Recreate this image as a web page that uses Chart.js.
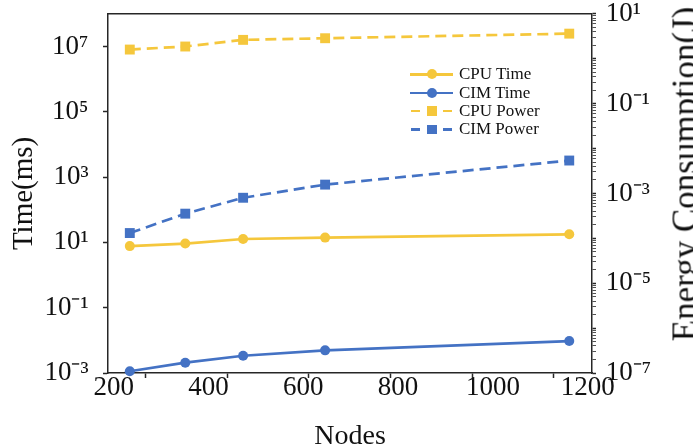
<!DOCTYPE html>
<html>
<head>
<meta charset="utf-8">
<script src="https://cdn.jsdelivr.net/npm/chart.js@4.4.0/dist/chart.umd.min.js"></script>
<style>
html,body{margin:0;padding:0;background:#fff;overflow:hidden}
#wrap{position:relative;width:693px;height:448px;overflow:hidden}
#legend{position:absolute;left:410px;top:65px;font:17px 'Liberation Serif',serif;color:#111}
.row{display:flex;align-items:center;height:18.4px;white-space:nowrap}
.key{position:relative;width:43px;height:18px;margin-right:6px}
.key div{position:absolute}
#etitle{position:absolute;left:685px;top:174px;font:35px 'Liberation Serif',serif;line-height:35px;
  white-space:nowrap;color:#111;transform:translate(-50%,-50%) rotate(-90deg)}
</style>
</head>
<body>
<div id="wrap">
  <canvas id="chart" width="693" height="448"></canvas>
  <div id="legend"></div>
  <div id="etitle">Energy Consumption(J)</div>
</div>
<script>
// Data
const nodes    = [234, 351, 473, 646, 1161];
const cpuTime  = [7.7, 9.2, 12.7, 14.0, 17.7];
const cimTime  = [0.00113, 0.00207, 0.00338, 0.00494, 0.0095];
const cpuPower = [1.6, 1.87, 2.63, 2.86, 3.62];
const cimPower = [0.000131, 0.000354, 0.0008, 0.00157, 0.0054];

// Ticks
const xLabelTicks = [200, 400, 600, 800, 1000, 1200];
const xMarkTicks  = [268, 440, 612, 784, 957, 1128];
const timeTicks   = [1e-3, 1e-1, 1e1, 1e3, 1e5, 1e7];
const energyExp   = [-7, -6, -5, -4, -3, -2, -1, 0, 1];

const YELLOW = '#F5C73C', BLUE = '#4472C4', AXIS = '#262626';
const FONT = "'Liberation Serif', serif";

const SUP = {'-':'⁻','0':'⁰','1':'¹','2':'²','3':'³','4':'⁴','5':'⁵','6':'⁶','7':'⁷','8':'⁸','9':'⁹'};
const pow10 = v => '10' + String(Math.round(Math.log10(v))).split('').map(c=>SUP[c]).join('');
const isDecade = v => Math.abs(Math.log10(v) - Math.round(Math.log10(v))) < 1e-9;

const pts = ys => nodes.map((x,i)=>({x, y: ys[i]}));

const series = [
  {label:'CPU Time',  data:pts(cpuTime),  color:YELLOW, dash:[],     style:'circle', r:5, axis:'y'},
  {label:'CIM Time',  data:pts(cimTime),  color:BLUE,   dash:[],     style:'circle', r:5, axis:'y'},
  {label:'CPU Power', data:pts(cpuPower), color:YELLOW, dash:[11,6], style:'rect',   r:7, axis:'y2'},
  {label:'CIM Power', data:pts(cimPower), color:BLUE,   dash:[11,6], style:'rect',   r:7, axis:'y2'}
];

// top frame line
const frame = {
  id:'frame',
  beforeDatasetsDraw(c){
    const a=c.chartArea, g=c.ctx;
    g.save(); g.strokeStyle=AXIS; g.lineWidth=1.5;
    g.beginPath(); g.moveTo(a.left, a.top); g.lineTo(a.right, a.top); g.stroke();
    g.restore();
  }
};

new Chart(document.getElementById('chart'), {
  type:'line',
  data:{ datasets: series.map(s=>({
    label:s.label, data:s.data, yAxisID:s.axis,
    borderColor:s.color, backgroundColor:s.color,
    pointBackgroundColor:s.color, pointBorderColor:s.color,
    borderWidth:2.7, borderDash:s.dash, pointStyle:s.style,
    pointRadius:s.r, pointBorderWidth:0, fill:false, tension:0, clip:false
  }))},
  options:{
    responsive:false, animation:false,
    layout:{ padding:0 },
    plugins:{ legend:{display:false}, tooltip:{enabled:false} },
    scales:{
      x:{
        type:'linear', min:188, max:1209,
        afterBuildTicks:s=>{ s.ticks=[...xLabelTicks, ...xMarkTicks].sort((a,b)=>a-b).map(v=>({value:v})); },
        afterFit:s=>{ s.height=75; },
        ticks:{ autoSkip:false, maxRotation:0, padding:0, color:'#111',
          font:{family:FONT, size:27, lineHeight:0.7},
          callback:v=> xLabelTicks.includes(v) ? String(v) : '' },
        grid:{ drawOnChartArea:false, tickLength:5, tickWidth:1.5,
          tickColor:c=> xMarkTicks.includes(c.tick.value) ? AXIS : 'rgba(0,0,0,0)' },
        border:{ color:AXIS, width:1.5 },
        title:{ display:true, text:'Nodes', color:'#111', padding:{top:0, bottom:-3},
          font:{family:FONT, size:28, lineHeight:1} }
      },
      y:{
        type:'logarithmic', position:'left', min:1e-3, max:1e8,
        afterBuildTicks:s=>{ s.ticks=timeTicks.map(v=>({value:v})); },
        afterFit:s=>{ s.width=108; },
        // trailing spaces give the gap to the axis (tick padding would push the plot top down)
        ticks:{ padding:1, color:'#111', font:{family:FONT, size:27, lineHeight:0.95},
          callback:v=>pow10(v) + '  ' },
        grid:{ drawOnChartArea:false, tickLength:5, tickWidth:1.5, tickColor:AXIS },
        border:{ color:AXIS, width:1.5 },
        title:{ display:true, text:'Time(ms)', color:'#111', padding:{top:7, bottom:0},
          font:{family:FONT, size:29} }
      },
      y2:{
        type:'logarithmic', position:'right', min:1e-7, max:1e1,
        afterBuildTicks:s=>{
          const t=[];
          energyExp.forEach(e=>{
            for(let k=1;k<=9;k++){ const v=k*Math.pow(10,e); if(v<=10.0001) t.push({value:v}); }
          });
          s.ticks=t;
        },
        afterFit:s=>{ s.width=101; },
        ticks:{ autoSkip:false, padding:3, color:'#111', font:{family:FONT, size:27, lineHeight:0.7},
          callback:v=> (isDecade(v) && Math.round(Math.log10(v))%2!==0) ? ' ' + pow10(v) : '' },
        grid:{ drawOnChartArea:false, tickLength:4, tickColor:AXIS,
          tickWidth:c=> isDecade(c.tick.value) ? 1.5 : 0.8 },
        border:{ color:AXIS, width:1.5 }
      }
    }
  },
  plugins:[frame]
});

// Legend
const leg=document.getElementById('legend');
series.forEach(s=>{
  const row=document.createElement('div'); row.className='row';
  const key=document.createElement('div'); key.className='key';
  const seg=(l,w)=>`<div style="left:${l}px;top:8px;width:${w}px;height:2.5px;background:${s.color}"></div>`;
  key.innerHTML = (s.dash.length ? seg(1,9)+seg(33,9) : seg(0,43)) +
    (s.style==='circle'
      ? `<div style="left:16.5px;top:4px;width:10px;height:10px;border-radius:50%;background:${s.color}"></div>`
      : `<div style="left:17px;top:4.5px;width:9.5px;height:9.5px;background:${s.color}"></div>`);
  const txt=document.createElement('span'); txt.textContent=s.label;
  row.appendChild(key); row.appendChild(txt); leg.appendChild(row);
});
</script>
</body>
</html>
